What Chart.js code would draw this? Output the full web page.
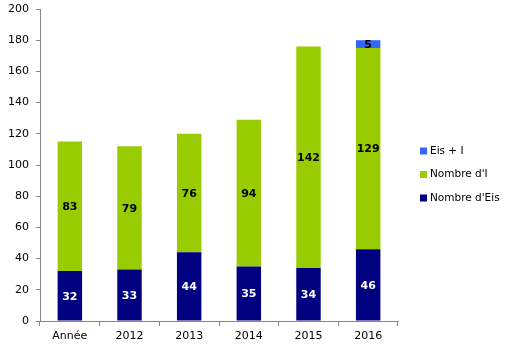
<!DOCTYPE html>
<html>
<head>
<meta charset="utf-8">
<script src="https://cdn.jsdelivr.net/npm/chart.js@4"></script>
<style>
  html, body { margin: 0; padding: 0; background: #fff; }
  #wrap { width: 509px; height: 348px; }
</style>
</head>
<body>
<div id="wrap"><canvas id="c" width="509" height="348"></canvas></div>
<script>
// Chart data
const categories = ['Année', '2012', '2013', '2014', '2015', '2016'];
const nombreEis  = [32, 33, 44, 35, 34, 46];
const nombreI    = [83, 79, 76, 94, 142, 129];
const eisPlusI   = [0, 0, 0, 0, 0, 5];
const yTicks     = [0, 20, 40, 60, 80, 100, 120, 140, 160, 180, 200];

const COLOURS = {
  eis:  '#000080', // navy
  i:    '#99CC00', // green
  both: '#3366FF', // blue
  axis: '#868686',
};

const FONT = 'Verdana, "DejaVu Sans", sans-serif';

// Value labels in the middle of each segment
const segmentLabels = {
  id: 'segmentLabels',
  afterDatasetsDraw(chart) {
    const ctx = chart.ctx;
    ctx.save();
    ctx.font = `bold 11px ${FONT}`;
    ctx.textAlign = 'center';
    ctx.textBaseline = 'middle';
    chart.data.datasets.forEach((ds, di) => {
      const meta = chart.getDatasetMeta(di);
      meta.data.forEach((bar, i) => {
        const v = ds.data[i];
        if (!v) return;
        const { x, y, base } = bar.getProps(['x', 'y', 'base'], true);
        ctx.fillStyle = ds.labelColor;
        ctx.fillText(String(v), x, (y + base) / 2 + 1);
      });
    });
    ctx.restore();
  },
};

// Legend on the right, reversed like the original
const sideLegend = {
  id: 'sideLegend',
  afterDraw(chart) {
    const ctx = chart.ctx;
    const items = chart.data.datasets.slice().reverse();
    ctx.save();
    ctx.font = `10.5px ${FONT}`;
    ctx.textBaseline = 'middle';
    ctx.textAlign = 'left';
    items.forEach((ds, k) => {
      const y = 151 + k * 23.5;
      ctx.fillStyle = ds.backgroundColor;
      ctx.fillRect(420, y - 3.5, 7, 7);
      ctx.fillStyle = '#000';
      ctx.fillText(ds.label, 430, y);
    });
    ctx.restore();
  },
};

new Chart(document.getElementById('c'), {
  type: 'bar',
  data: {
    labels: categories,
    datasets: [
      { label: "Nombre d'Eis", data: nombreEis, backgroundColor: COLOURS.eis, labelColor: '#fff' },
      { label: "Nombre d'I",   data: nombreI,   backgroundColor: COLOURS.i,   labelColor: '#000' },
      { label: 'Eis + I',      data: eisPlusI,  backgroundColor: COLOURS.both, labelColor: '#000' },
    ],
  },
  options: {
    responsive: false,
    animation: false,
    devicePixelRatio: 1,
    layout: { padding: { left: 0, top: 9, right: 111, bottom: 0 } },
    datasets: { bar: { barPercentage: 0.41, categoryPercentage: 1 } },
    plugins: { legend: { display: false }, tooltip: { enabled: false } },
    scales: {
      x: {
        stacked: true,
        afterFit(scale) { scale.height = 27; scale.paddingLeft = 0; scale.paddingRight = 0; },
        border: { color: COLOURS.axis, width: 1 },
        grid: { offset: true, drawOnChartArea: false, tickLength: 5, color: COLOURS.axis },
        ticks: { font: { family: FONT, size: 11 }, color: '#000', padding: 4 },
      },
      y: {
        stacked: true,
        min: 0,
        max: 200,
        afterFit(scale) { scale.width = 40; scale.paddingTop = 0; scale.paddingBottom = 0; },
        afterBuildTicks(scale) { scale.ticks = yTicks.map(v => ({ value: v })); },
        border: { color: COLOURS.axis, width: 1 },
        grid: { drawOnChartArea: false, tickLength: 4, color: COLOURS.axis },
        ticks: { font: { family: FONT, size: 11 }, color: '#000', padding: 7 },
      },
    },
  },
  plugins: [segmentLabels, sideLegend],
});
</script>
</body>
</html>
